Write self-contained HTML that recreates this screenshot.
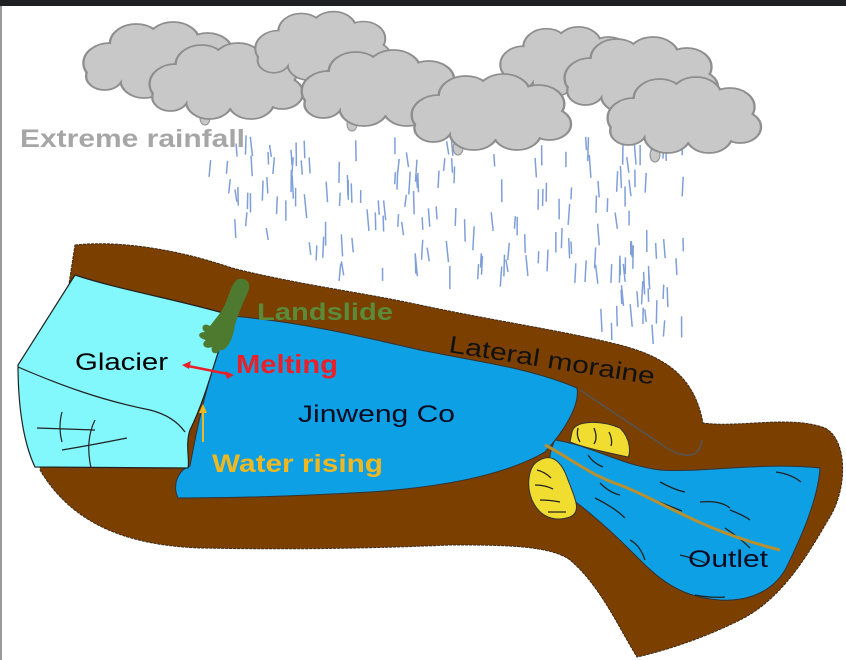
<!DOCTYPE html>
<html><head><meta charset="utf-8"><style>
html,body{margin:0;padding:0;background:#fff;}
svg{display:block;font-family:"Liberation Sans",Arial,sans-serif;}
</style></head><body>
<svg id="s" width="846" height="660" viewBox="0 0 846 660" xmlns="http://www.w3.org/2000/svg">
<defs>
<g id="cloud">
 <g fill="#c8c8c8" stroke="#8e8e8e" stroke-width="1.8">
  <circle cx="-38" cy="5" r="20"/><circle cx="-18" cy="-14" r="20"/><circle cx="10" cy="-16" r="20"/><circle cx="36" cy="-6" r="19"/><circle cx="44" cy="14" r="16"/><circle cx="20" cy="22" r="18"/><circle cx="-12" cy="22" r="18"/><circle cx="-42" cy="18" r="14"/>
 </g>
 <g fill="#c8c8c8">
  <circle cx="-38" cy="5" r="19"/><circle cx="-18" cy="-14" r="19"/><circle cx="10" cy="-16" r="19"/><circle cx="36" cy="-6" r="18"/><circle cx="44" cy="14" r="15"/><circle cx="20" cy="22" r="17"/><circle cx="-12" cy="22" r="17"/><circle cx="-42" cy="18" r="13"/><ellipse cx="2" cy="5" rx="42" ry="24"/>
 </g>
</g>
</defs>
<rect x="0" y="0" width="846" height="6" fill="#1f2021"/>
<rect x="0" y="6" width="2" height="654" fill="#9a9a9a"/>
<g id="rain" stroke="#7f9fd8" stroke-width="1.5"></g>
<g id="clouds">
 <g fill="#c8c8c8" stroke="#8e8e8e">
 <ellipse cx="163" cy="102" rx="5" ry="7"/><ellipse cx="205" cy="118" rx="5" ry="7"/><ellipse cx="352" cy="124" rx="5" ry="7"/><ellipse cx="458" cy="148" rx="5" ry="7"/><ellipse cx="548" cy="103" rx="5" ry="7"/><ellipse cx="655" cy="155" rx="5" ry="7"/>
 </g>
 <use href="#cloud" transform="translate(160,58) scale(1.32,1)"/>
 <use href="#cloud" transform="translate(225,79) scale(1.3,1)"/>
 <use href="#cloud" transform="translate(322,44) scale(1.15,0.9)"/>
 <use href="#cloud" transform="translate(567,60) scale(1.15,0.92)"/>
 <use href="#cloud" transform="translate(380,86) scale(1.35,1)"/>
 <use href="#cloud" transform="translate(490,110) scale(1.35,1)"/>
 <use href="#cloud" transform="translate(640,73) scale(1.3,1)"/>
 <use href="#cloud" transform="translate(683,113) scale(1.3,1)"/>
</g>
<text x="20" y="147" font-size="25" font-weight="bold" fill="#a6a6a6" textLength="225" lengthAdjust="spacingAndGlyphs">Extreme rainfall</text>

<!-- brown moraine -->
<path d="M75,245 C120,240 180,250 232,268 C300,285 360,292 420,305 C500,322 560,330 620,345 C670,358 695,380 703,423 C740,428 790,415 825,428 C848,440 848,490 828,520 C805,560 780,600 740,620 C700,640 660,652 637,657 C620,630 600,585 570,560 C550,545 500,545 450,545 C380,548 300,550 200,548 C120,545 70,520 40,470 Z" fill="#7b3f00" stroke="#3a2a1a" stroke-width="1" stroke-dasharray="3,1"/>
<path d="M580,390 C610,410 640,430 670,450 C690,460 700,455 702,440" fill="none" stroke="#555" stroke-width="1.5"/>
<!-- lake -->
<path d="M232,316 C300,322 360,336 420,350 C480,362 530,368 577,388 C580,405 565,430 545,452 C500,478 430,488 370,492 C300,496 230,498 178,498 C172,485 178,470 190,466 C195,440 205,380 232,316 Z" fill="#0ea0e5" stroke="#333" stroke-width="1"/>
<!-- outlet -->
<path d="M555,440 C590,445 620,465 660,470 C700,473 760,462 820,468 C818,500 800,540 785,570 C770,595 740,605 705,598 C670,592 650,570 630,550 C600,520 580,505 560,490 C550,475 545,460 555,440 Z" fill="#0ea0e5" stroke="#333" stroke-width="1"/>
<path d="M572,432 C575,420 600,420 620,428 C632,440 630,455 628,457 C605,452 585,448 570,442 Z" fill="#f0dd30" stroke="#333" stroke-width="1"/>
<path d="M540,460 C552,453 562,462 568,480 C575,498 582,512 570,517 C555,522 540,518 532,500 C526,485 528,465 540,460 Z" fill="#f0dd30" stroke="#333" stroke-width="1"/>
<g fill="none" stroke="#222" stroke-width="1.3">
 <path d="M578,428 q-2,8 2,14 M594,428 q4,10 0,16 M609,432 q4,8 2,14"/>
 <path d="M537,470 q8,2 14,8 M535,485 q10,0 18,4 M540,500 q10,0 20,2 M548,512 q8,0 18,0"/>
 <path d="M588,455 q5,8 15,12 M600,483 q10,10 20,12 M660,482 q15,8 25,10 M637,493 q20,8 45,18 M595,498 q20,10 30,20 M700,502 q20,-2 30,6 M730,510 q15,6 20,10 M776,472 q15,2 25,10 M630,540 q10,5 15,20 M680,555 q20,5 25,8 M695,595 q15,3 30,2 M725,528 q15,10 25,20"/>
</g>
<path d="M545,445 C570,458 590,475 620,485 C660,500 700,530 780,550" fill="none" stroke="#b89030" stroke-width="3"/>
<!-- glacier -->
<path d="M75,275 C120,290 180,300 230,315 C215,360 205,400 190,430 C185,445 190,460 188,468 L35,467 C22,440 18,400 18,365 Z" fill="#82f7fc" stroke="#222" stroke-width="1.2"/>
<path d="M18,367 C60,385 100,400 150,410 C170,415 180,425 185,432" fill="none" stroke="#222" stroke-width="1.2"/>
<path d="M37,428 L95,430 M62,412 q-4,15 0,30 M62,450 q30,-5 65,-12 M95,420 q-10,20 -4,48" fill="none" stroke="#222" stroke-width="1.2"/>
<!-- landslide -->
<path d="M238,279 C246,277 252,283 248,292 C242,305 238,315 235,325 C233,340 226,352 220,350 C216,356 210,353 212,347 C205,350 200,344 206,340 C197,338 197,332 205,332 C200,328 203,322 210,326 C216,318 222,312 226,302 C230,292 232,283 238,279 Z" fill="#4e7a30"/>
<line x1="188" y1="366" x2="228" y2="374" stroke="#e8202a" stroke-width="2.5"/>
<path d="M182,365 l9,-4 l-2,8 Z M234,375 l-9,-4 l2,8 Z" fill="#e8202a"/>
<line x1="203" y1="442" x2="203" y2="412" stroke="#f0b820" stroke-width="2"/>
<path d="M203,404 l-4,9 h8 Z" fill="#f0b820"/>
<text x="257" y="320" font-size="24" font-weight="bold" fill="#5a8a3a" textLength="136" lengthAdjust="spacingAndGlyphs">Landslide</text>
<text x="75" y="370" font-size="24" fill="#000" textLength="93" lengthAdjust="spacingAndGlyphs">Glacier</text>
<text x="236" y="373" font-size="26" font-weight="bold" fill="#e8202a" textLength="102" lengthAdjust="spacingAndGlyphs">Melting</text>
<text x="298" y="422" font-size="24" fill="#0a0a20" textLength="157" lengthAdjust="spacingAndGlyphs">Jinweng Co</text>
<text x="212" y="472" font-size="25" font-weight="bold" fill="#f0b820" textLength="171" lengthAdjust="spacingAndGlyphs">Water rising</text>
<text x="448" y="352" font-size="24" fill="#111" transform="rotate(9 448 352)" textLength="208" lengthAdjust="spacingAndGlyphs">Lateral moraine</text>
<text x="688" y="567" font-size="24" fill="#0a0a20" textLength="80" lengthAdjust="spacingAndGlyphs">Outlet</text>
</svg>
<script>
(function(){
 var g=document.getElementById('rain'),seed=7;
 function r(){seed=(seed*16807)%2147483647;return seed/2147483647;}
 var ns='http://www.w3.org/2000/svg';
 for(var i=0;i<230;i++){
  var x=210+r()*475,y=135+r()*190;
  if(y>250 && x<300) continue;
  if(y>270 && x<600) continue;
  var l=12+r()*12,dx=(r()-0.4)*4;
  var e=document.createElementNS(ns,'line');
  e.setAttribute('x1',x);e.setAttribute('y1',y);e.setAttribute('x2',x+dx);e.setAttribute('y2',y+l);
  g.appendChild(e);
 }
})();
</script>
</body></html>
